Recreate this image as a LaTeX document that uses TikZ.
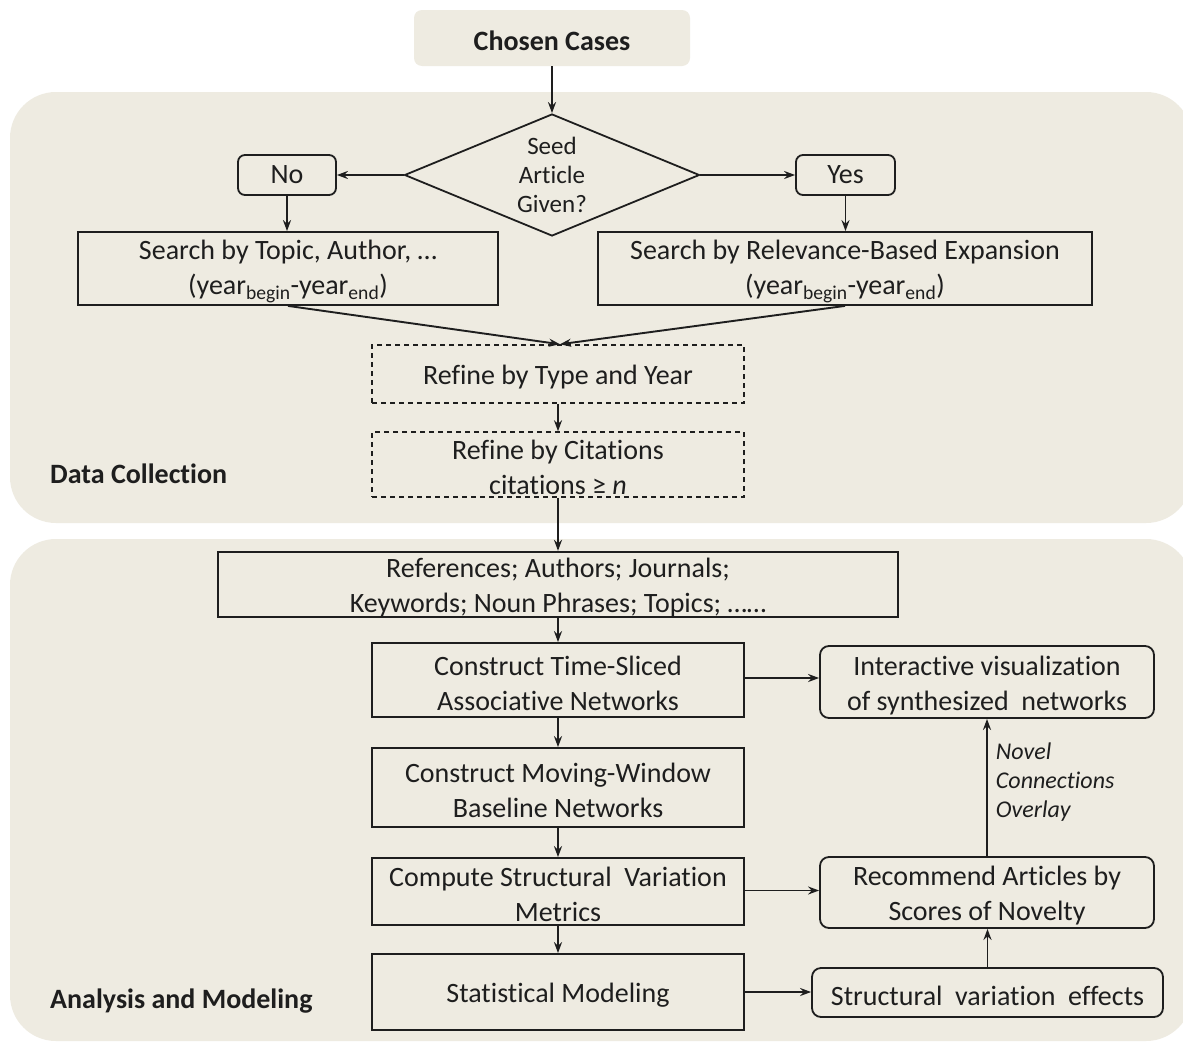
\documentclass[tikz,border=0pt]{standalone}
\usepackage{fontspec}
\setmainfont{Carlito}[Ligatures=NoCommon]
\usetikzlibrary{arrows.meta,shapes.geometric}
\definecolor{panel}{HTML}{EEEBE1}
\definecolor{ink}{HTML}{1E1E1E}
\newcommand\tpstrut{\rule{0pt}{26pt}}
\tikzset{
  base/.style={draw=ink, line width=1.8pt, align=center, inner sep=0pt, text=ink,
    font=\fontsize{28}{35}\selectfont},
  sq/.style={base, fill=panel},
  rnd/.style={base, fill=panel, rounded corners=9pt},
  dsh/.style={base, fill=panel, line width=1.5pt, dash pattern=on 5pt off 4pt},
  lbl/.style={text=ink, inner sep=0pt, font=\fontsize{28}{35}\selectfont\bfseries},
  arr/.style={draw=ink, line width=1.9pt, -{Stealth[length=11pt,width=8pt]}},
}
\begin{document}
\begin{tikzpicture}[x=1pt,y=-1pt]
\clip (0,0) rectangle (1183,1044);
\fill[white] (0,0) rectangle (1183,1044);
% panels
\fill[panel, rounded corners=46pt] (10,92) rectangle (1192,523);
\fill[panel, rounded corners=46pt] (10,539) rectangle (1192,1041);
\node[lbl, anchor=west] (dc) at (50,474) {Data Collection};
\node[lbl, anchor=west] (am) at (50,1001) {Analysis and Modeling};

\node[lbl, fill=panel, rounded corners=8pt, minimum width=276pt, minimum height=56pt] (cases) at (552,38) {\tpstrut Chosen Cases};

\node[draw=ink, line width=1.8pt, shape=diamond, fill=panel, inner sep=0pt, minimum width=295pt, minimum height=122pt] (seed) at (552,175) {};
\node[text=ink, align=center, inner sep=0pt, font=\fontsize{25}{29}\selectfont] (seedtxt) at (552,175) {Seed\\Article\\Given?};

\node[rnd, minimum width=98pt, minimum height=40pt, rounded corners=7pt] (no) at (287,175) {No};
\node[rnd, minimum width=99pt, minimum height=40pt, rounded corners=7pt] (yes) at (845.5,175) {Yes};

\node[sq, minimum width=420pt, minimum height=73pt] (s1) at (288,268.5) {\tpstrut Search by Topic, Author, …\\(year\textsubscript{begin}-year\textsubscript{end})};
\node[sq, minimum width=494pt, minimum height=73pt] (s2) at (845,268.5) {\tpstrut Search by Relevance-Based Expansion\\(year\textsubscript{begin}-year\textsubscript{end})};

\node[dsh, minimum width=372pt, minimum height=58pt] (r1) at (558,374) {\tpstrut Refine by Type and Year};
\node[dsh, minimum width=372pt, minimum height=65pt] (r2) at (558,464.5) {\tpstrut Refine by Citations\\citations ≥ \textit{n}};

\node[sq, minimum width=680pt, minimum height=65pt] (refs) at (558,584.5) {\tpstrut References; Authors; Journals;\\Keywords; Noun Phrases; Topics; ……};
\node[sq, minimum width=372pt, minimum height=74pt] (ts) at (558,680) {\tpstrut Construct Time-Sliced\\Associative Networks};
\node[sq, minimum width=372pt, minimum height=79pt] (mw) at (558,787.5) {\tpstrut Construct Moving-Window\\Baseline Networks};
\node[sq, minimum width=372pt, minimum height=67pt] (csv) at (558,891.5) {\tpstrut Compute Structural\ \ Variation\\Metrics};
\node[sq, minimum width=372pt, minimum height=76pt] (stat) at (558,992) {\tpstrut Statistical Modeling};

\node[rnd, minimum width=334pt, minimum height=72pt] (iv) at (987,682) {\tpstrut Interactive visualization\\of synthesized\ \ networks};
\node[rnd, minimum width=334pt, minimum height=71pt] (rec) at (987,892.5) {\tpstrut Recommend Articles by\\Scores of Novelty};
\node[rnd, minimum width=351pt, minimum height=49pt] (sve) at (987.5,992.5) {\tpstrut Structural\ \ variation\ \ effects};

% connectors
\draw[arr] (cases.south) -- (seed.north);
\draw[arr] (seed.west) -- (no.east);
\draw[arr] (seed.east) -- (yes.west);
\draw[arr] (no.south) -- (no.south |- s1.north);
\draw[arr] (yes.south) -- (yes.south |- s2.north);
\draw[arr] (s1.south) -- ([xshift=2pt]r1.north);
\draw[arr] (s2.south) -- ([xshift=2pt]r1.north);
\draw[arr] (r1.south) -- (r2.north);
\draw[arr] (r2.south) -- (refs.north);
\draw[arr] (refs.south) -- (ts.north);
\draw[arr] (ts.south) -- (mw.north);
\draw[arr] (mw.south) -- (csv.north);
\draw[arr] (csv.south) -- (stat.north);
\draw[arr] ([yshift=2pt]ts.east) -- ([yshift=2pt]ts.east -| iv.west);
\draw[arr] ([yshift=1pt]csv.east) -- ([yshift=1pt]csv.east -| rec.west);
\draw[arr] (stat.east) -- (stat.east -| sve.west);
\draw[arr] (sve.north) -- (sve.north |- rec.south);
\draw[arr] (rec.north) -- node[right=8pt, yshift=5pt, align=left, text=ink, inner sep=0pt, font=\fontsize{24}{29}\selectfont\itshape] (nco) {Novel\\Connections\\Overlay} (iv.south);
\end{tikzpicture}
\end{document}
